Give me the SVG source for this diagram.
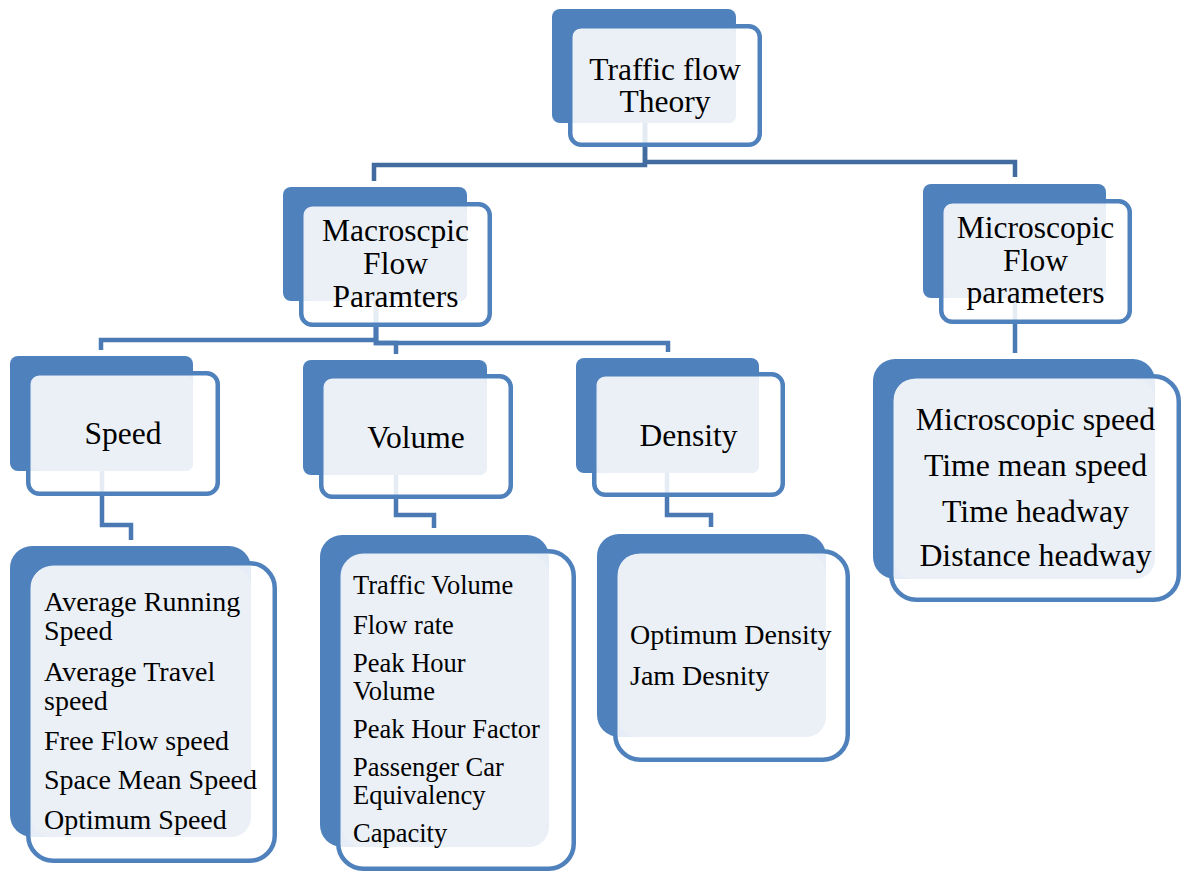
<svg xmlns="http://www.w3.org/2000/svg" width="1181" height="872" viewBox="0 0 1181 872">
  <style>
    .back { fill: #4F81BD; }
    .front { fill: #FFFFFF; fill-opacity: 0.86; stroke: #4F81BD; stroke-width: 4.5; }
    .panel { fill: #EBF0F7; }
    .lbl { font-family: "Liberation Serif", "Times New Roman", serif; fill: #000; text-anchor: middle; font-size: 31.5px; }
    .item { font-family: "Liberation Serif", "Times New Roman", serif; fill: #000; }
    .wire { fill: none; stroke-width: 4.5; stroke-linejoin: miter; stroke-linecap: butt; }
    .top { stroke: #426C9F; }
    .low { stroke: #4A79B3; }
  </style>

  <rect width="1181" height="872" fill="#FFFFFF"/>

  <!-- connectors (drawn first so boxes sit over them) -->
  <g id="connectors">
    <path class="wire top" d="M645,110 V165 H374 V181"/>
    <path class="wire top" d="M645,110 V162 H1015 V177"/>
    <path class="wire low" d="M376,290 V340 H101 V350"/>
    <path class="wire low" d="M376,290 V343 H396 V354"/>
    <path class="wire low" d="M376,290 V343 H668 V352"/>
    <path class="wire low" d="M1015,290 V353"/>
    <path class="wire low" d="M102,460 V525 H131 V540"/>
    <path class="wire low" d="M396,460 V515 H434 V528"/>
    <path class="wire low" d="M667,460 V515 H711 V527"/>
  </g>

  <!-- root -->
  <g id="n-theory">
    <rect class="back" x="552" y="9" width="184" height="114" rx="8"/>
    <rect class="front" x="570.25" y="26.25" width="189.5" height="118.5" rx="11"/>
    <rect class="panel" x="573" y="29" width="163" height="94" rx="7"/>
    <text class="lbl" x="665" y="80">Traffic flow</text>
    <text class="lbl" x="665" y="112">Theory</text>
  </g>

  <!-- level 2 -->
  <g id="n-macro">
    <rect class="back" x="283" y="187" width="184" height="114" rx="8"/>
    <rect class="front" x="301.25" y="204.25" width="188.5" height="120.5" rx="11"/>
    <rect class="panel" x="305" y="207" width="162" height="94" rx="7"/>
    <text class="lbl" x="395.5" y="241">Macroscpic</text>
    <text class="lbl" x="395.5" y="274">Flow</text>
    <text class="lbl" x="395.5" y="307">Paramters</text>
  </g>

  <g id="n-micro">
    <rect class="back" x="923" y="184" width="183" height="114" rx="8"/>
    <rect class="front" x="941.25" y="201.25" width="188.5" height="120.5" rx="11"/>
    <rect class="panel" x="945" y="204" width="161" height="94" rx="7"/>
    <text class="lbl" x="1035.5" y="238">Microscopic</text>
    <text class="lbl" x="1035.5" y="271">Flow</text>
    <text class="lbl" x="1035.5" y="303">parameters</text>
  </g>

  <!-- level 3 -->
  <g id="n-speed">
    <rect class="back" x="10" y="356" width="183" height="115" rx="8"/>
    <rect class="front" x="28.25" y="373.25" width="189.5" height="120.5" rx="11"/>
    <rect class="panel" x="32" y="376" width="161" height="95" rx="7"/>
    <text class="lbl" x="123" y="444">Speed</text>
  </g>

  <g id="n-volume">
    <rect class="back" x="303" y="360" width="184" height="115" rx="8"/>
    <rect class="front" x="321.25" y="376.25" width="189.5" height="120.5" rx="11"/>
    <rect class="panel" x="325" y="379" width="162" height="96" rx="7"/>
    <text class="lbl" x="416" y="448">Volume</text>
  </g>

  <g id="n-density">
    <rect class="back" x="576" y="358" width="183" height="115" rx="8"/>
    <rect class="front" x="594.25" y="374.25" width="188.5" height="120.5" rx="11"/>
    <rect class="panel" x="598" y="377" width="161" height="96" rx="7"/>
    <text class="lbl" x="688.5" y="446">Density</text>
  </g>

  <!-- detail lists -->
  <g id="n-speed-list">
    <rect class="back" x="10" y="546" width="241" height="291" rx="22"/>
    <rect class="front" x="28.25" y="563.25" width="246.5" height="297.5" rx="25"/>
    <rect class="panel" x="31" y="567" width="220" height="270" rx="20"/>
    <g class="item" font-size="28px">
      <text x="44" y="611">Average Running</text>
      <text x="44" y="640">Speed</text>
      <text x="44" y="681">Average Travel</text>
      <text x="44" y="710">speed</text>
      <text x="44" y="750">Free Flow speed</text>
      <text x="44" y="789">Space Mean Speed</text>
      <text x="44" y="829">Optimum Speed</text>
    </g>
  </g>

  <g id="n-volume-list">
    <rect class="back" x="320" y="535" width="229" height="312" rx="22"/>
    <rect class="front" x="338.25" y="551.25" width="235.5" height="317.5" rx="25"/>
    <rect class="panel" x="342" y="555" width="207" height="292" rx="20"/>
    <g class="item" font-size="26.5px">
      <text x="353" y="594">Traffic Volume</text>
      <text x="353" y="634">Flow rate</text>
      <text x="353" y="672">Peak Hour</text>
      <text x="353" y="700">Volume</text>
      <text x="353" y="738">Peak Hour Factor</text>
      <text x="353" y="776">Passenger Car</text>
      <text x="353" y="804">Equivalency</text>
      <text x="353" y="842">Capacity</text>
    </g>
  </g>

  <g id="n-density-list">
    <rect class="back" x="597" y="534" width="229" height="203" rx="22"/>
    <rect class="front" x="615.25" y="551.25" width="232.5" height="208.5" rx="25"/>
    <rect class="panel" x="618" y="554" width="208" height="183" rx="20"/>
    <g class="item" font-size="28px">
      <text x="630" y="644">Optimum Density</text>
      <text x="630" y="685">Jam Desnity</text>
    </g>
  </g>

  <g id="n-micro-list">
    <rect class="back" x="873" y="359" width="282" height="220" rx="22"/>
    <rect class="front" x="891.25" y="376.25" width="287.5" height="223.5" rx="25"/>
    <rect class="panel" x="894" y="379" width="261" height="200" rx="20"/>
    <g class="item" font-size="31.8px" text-anchor="middle">
      <text x="1035.5" y="430">Microscopic speed</text>
      <text x="1035.5" y="476">Time mean speed</text>
      <text x="1035.5" y="522">Time headway</text>
      <text x="1035.5" y="566">Distance headway</text>
    </g>
  </g>
</svg>
